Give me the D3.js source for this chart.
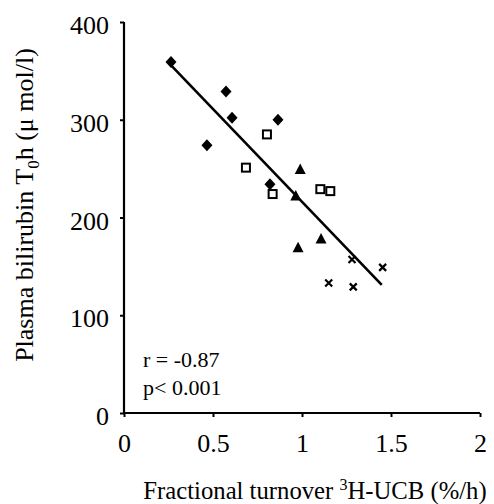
<!DOCTYPE html>
<html><head><meta charset="utf-8">
<script src="https://cdn.jsdelivr.net/npm/d3@7"></script>
<style>body{margin:0;background:#fff}svg{display:block}text{font-family:"Liberation Serif","Times New Roman",serif;fill:#000}</style>
</head><body>
<svg id="c" width="494" height="504"></svg>
<script>
const diamondX = [0.264, 0.573, 0.607, 0.466, 0.865, 0.82];
const diamondY = [359, 329, 302, 274, 300, 234];
const squareX = [0.803, 0.685, 0.835, 1.103, 1.159];
const squareY = [285, 251, 224, 229, 227];
const triangleX = [0.99, 0.965, 0.978, 1.107];
const triangleY = [249, 222, 169, 178];
const crossX = [1.281, 1.453, 1.15, 1.288];
const crossY = [157, 149, 133, 129];
const fitX = [0.258, 1.448];
const fitY = [357, 131];
const xTicks = [0, 0.5, 1, 1.5, 2];
const xTickLabels = ["0", "0.5", "1", "1.5", "2"];
const yTicks = [0, 100, 200, 300, 400];
const stats = ["r = -0.87", "p< 0.001"];

const svg = d3.select("#c");
const x = d3.scaleLinear().domain([0, 2]).range([124, 480]);
const y = d3.scaleLinear().domain([0, 400]).range([413, 22]);

const xAxis = svg.append("g").attr("transform", "translate(0,413)")
  .call(d3.axisBottom(x).tickValues(xTicks).tickFormat((d, i) => xTickLabels[i]).tickSize(4).tickPadding(17));
const yAxis = svg.append("g").attr("transform", "translate(124,0)")
  .call(d3.axisLeft(y).tickValues(yTicks).tickSize(4).tickPadding(11));
[xAxis, yAxis].forEach(g => {
  g.attr("font-family", null).attr("font-size", null);
  g.select(".domain").attr("stroke", "#000").attr("stroke-width", 2.2);
  g.selectAll(".tick line").attr("stroke", "#000").attr("stroke-width", 2);
  g.selectAll(".tick text").style("font-size", "26px").attr("fill", "#000");
});
yAxis.selectAll(".tick text").attr("dy", "0.45em");
xAxis.select(".domain").attr("d", `M${x(0)},0H${x(2)}`);
yAxis.select(".domain").attr("d", `M0,${y(0)}V${y(400)}`);

// fit line
svg.append("line")
  .attr("x1", x(fitX[0])).attr("y1", y(fitY[0]))
  .attr("x2", x(fitX[1])).attr("y2", y(fitY[1]))
  .attr("stroke", "#000").attr("stroke-width", 2.6);

const diamond = "M0,-6L5.5,0L0,6L-5.5,0Z";
svg.append("g").selectAll("path").data(diamondX).join("path")
  .attr("d", diamond)
  .attr("transform", (d, i) => `translate(${x(d)},${y(diamondY[i])})`)
  .attr("fill", "#000");
svg.append("g").selectAll("rect").data(squareX).join("rect")
  .attr("x", d => x(d) - 4).attr("y", (d, i) => y(squareY[i]) - 4)
  .attr("width", 8).attr("height", 8)
  .attr("fill", "#fff").attr("stroke", "#000").attr("stroke-width", 2);
svg.append("g").selectAll("path").data(triangleX).join("path")
  .attr("d", "M0,-6L5.5,4.5L-5.5,4.5Z")
  .attr("transform", (d, i) => `translate(${x(d)},${y(triangleY[i])})`)
  .attr("fill", "#000");
svg.append("g").selectAll("path").data(crossX).join("path")
  .attr("d", "M-3.5,-3.5L3.5,3.5M-3.5,3.5L3.5,-3.5")
  .attr("transform", (d, i) => `translate(${x(d)},${y(crossY[i])})`)
  .attr("stroke", "#000").attr("stroke-width", 2.2).attr("fill", "none");

// stats
svg.append("g").selectAll("text").data(stats).join("text")
  .attr("x", 143).attr("y", (d, i) => 367 + i * 28)
  .style("font-size", "22px").text(d => d);

// x title
const xt = svg.append("text").attr("x", 315).attr("y", 499).attr("text-anchor", "middle").style("font-size", "24.7px");
xt.append("tspan").text("Fractional turnover ");
xt.append("tspan").style("font-size", "16px").attr("dy", -9).text("3");
xt.append("tspan").attr("dy", 9).text("H-UCB (%/h)");

// y title
const yt = svg.append("text").attr("transform", "translate(33,205) rotate(-90)").attr("text-anchor", "middle").style("font-size", "26px");
yt.append("tspan").text("Plasma bilirubin T");
yt.append("tspan").style("font-size", "17px").attr("dy", 6).text("0");
yt.append("tspan").attr("dy", -6).text("h (\u03bc mol/l)");
</script>
</body></html>
